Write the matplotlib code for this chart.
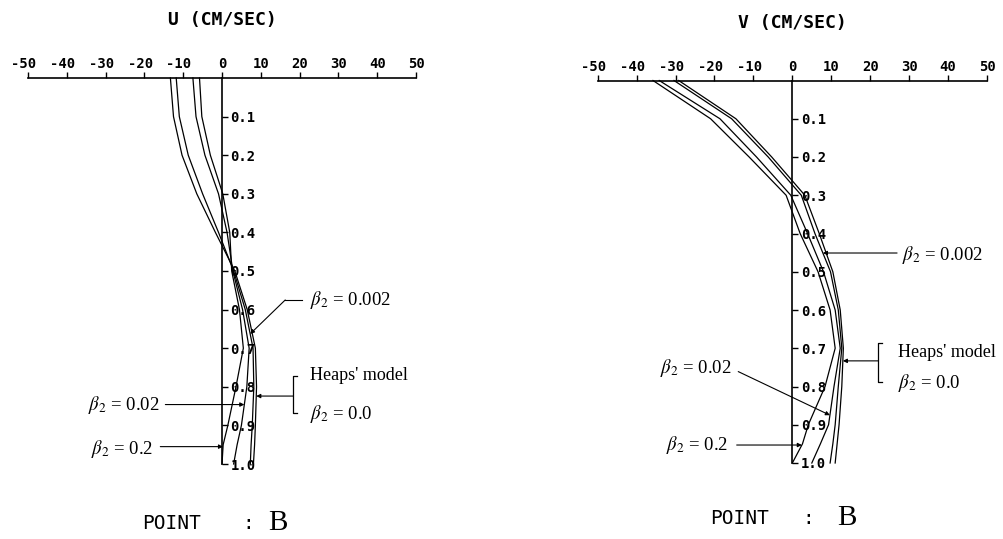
import numpy as np
import matplotlib
matplotlib.use("Agg")
import matplotlib.pyplot as plt

# depth below surface (fraction of total depth)
depth = [0.0, 0.1, 0.2, 0.3, 0.4, 0.5, 0.6, 0.7, 0.8, 0.9, 0.95, 1.0]

# U component (cm/sec) for each bottom friction beta2
u_beta_02 = [-5.8, -5.2, -3.0, 0.2, 2.0, 2.5, 4.5, 5.5, 3.6, 1.5, 0.3, 0.0]
u_beta_002 = [-7.5, -6.7, -4.4, -0.9, 1.3, 2.8, 5.3, 7.0, 6.4, 5.0, 3.9, 3.0]
u_beta_0002 = [-11.8, -11.0, -8.7, -5.0, -0.9, 3.0, 6.0, 8.0, 8.2, 7.8, 7.5, 7.3]
u_beta_0 = [-13.3, -12.5, -10.3, -6.5, -1.7, 3.3, 6.5, 8.6, 8.9, 8.6, 8.4, 8.1]

# V component (cm/sec)
v_beta_02 = [-35.8, -21.0, -11.1, -1.6, 2.0, 6.6, 9.7, 11.0, 8.4, 4.1, 2.6, 0.0]
v_beta_002 = [-34.2, -18.6, -9.2, -0.4, 3.9, 8.0, 11.0, 12.3, 10.7, 9.3, 7.2, 5.0]
v_beta_0002 = [-30.4, -15.6, -6.2, 2.3, 5.8, 9.8, 11.8, 12.7, 11.8, 11.0, 10.4, 9.7]
v_beta_0 = [-29.2, -14.5, -5.3, 3.2, 6.9, 10.4, 12.3, 13.1, 12.7, 12.0, 11.5, 11.0]

x_ticks = [-50, -40, -30, -20, -10, 0, 10, 20, 30, 40, 50]
depth_ticks = [0.1, 0.2, 0.3, 0.4, 0.5, 0.6, 0.7, 0.8, 0.9, 1.0]

plt.rcParams["mathtext.fontset"] = "stix"
MONO = "DejaVu Sans Mono"
SERIF = "Liberation Serif"

fig = plt.figure(figsize=(10.04, 5.39), dpi=100)


def setup_panel(rect, title):
    ax = fig.add_axes(rect)
    ax.set_xlim(-50, 50)
    ax.set_ylim(1.0, 0.0)
    ax.patch.set_visible(False)
    ax.spines["left"].set_visible(False)
    ax.spines["bottom"].set_visible(False)
    ax.spines["right"].set_position(("data", 0))
    ax.spines["top"].set_linewidth(1.2)
    ax.spines["right"].set_linewidth(1.2)
    ax.xaxis.tick_top()
    ax.yaxis.tick_right()
    ax.set_xticks(x_ticks)
    ax.set_xticklabels([])
    ax.set_yticks(depth_ticks)
    ax.set_yticklabels(["%.1f" % d for d in depth_ticks], fontfamily=MONO,
                       fontsize=10, fontweight="bold")
    ax.tick_params(axis="x", direction="out", length=4, width=1)
    ax.tick_params(axis="y", direction="out", length=4, width=1, pad=2)
    # plotter style labels: digits centred on tick, minus sign hanging left
    for t in x_ticks:
        dx = -3 if t < 0 else 0
        ax.annotate(str(t), xy=(t, 0), xytext=(dx, 7), textcoords="offset points",
                    ha="center", va="baseline", fontfamily=MONO, fontsize=10,
                    fontweight="bold", annotation_clip=False)
    ax.text(0, -0.15, title, ha="center", va="center", fontfamily=MONO,
            fontsize=13, fontweight="bold")
    return ax


def leader(ax, start, tip_depth, curve, arrow=True):
    tip = (np.interp(tip_depth, depth, curve), tip_depth)
    ax.annotate("", xy=tip, xytext=start, annotation_clip=False,
                arrowprops=dict(arrowstyle="-|>" if arrow else "-", lw=0.8,
                                color="black", mutation_scale=6,
                                shrinkA=0, shrinkB=0))


def beta_label(ax, x, y, value, ha="left"):
    ax.text(x, y, r"$\beta_2$ = " + value, ha=ha, va="center",
            fontfamily=SERIF, fontsize=13.5)


def bracket(ax, x, y0, y1, w=1.0):
    ax.plot([x + w, x, x, x + w], [y0, y0, y1, y1], color="black", lw=0.9,
            clip_on=False)


def point_label(ax, x_point, x_colon, x_b, y):
    ax.text(x_point, y, "POINT", ha="left", va="center", fontfamily=MONO,
            fontsize=14)
    ax.text(x_colon, y, ":", ha="center", va="center", fontfamily=MONO,
            fontsize=14)
    ax.text(x_b, y, "B", ha="center", va="center", fontfamily=SERIF,
            fontsize=21)


# ---------------- U panel ----------------
ax1 = setup_panel([28 / 1004, 1 - 464 / 539, 388 / 1004, 386 / 539], "U (CM/SEC)")
for u in (u_beta_02, u_beta_002, u_beta_0002, u_beta_0):
    ax1.plot(u, depth, color="black", lw=0.9, clip_on=False)

beta_label(ax1, 22.8, 0.575, "0.002")
ax1.plot([20.7, 16.3], [0.575, 0.575], color="black", lw=0.8, clip_on=False)
leader(ax1, (16.3, 0.575), 0.663, u_beta_0002)

ax1.text(22.8, 0.772, "Heaps' model", ha="left", va="center", fontfamily=SERIF,
         fontsize=13)
beta_label(ax1, 22.8, 0.870, "0.0")
bracket(ax1, 18.4, 0.772, 0.868)
leader(ax1, (18.4, 0.824), 0.824, u_beta_0)

beta_label(ax1, -16.1, 0.847, "0.02", ha="right")
leader(ax1, (-14.6, 0.846), 0.846, u_beta_002)

beta_label(ax1, -17.7, 0.962, "0.2", ha="right")
leader(ax1, (-15.9, 0.955), 0.955, u_beta_02)

point_label(ax1, -20.5, 6.8, 14.3, 1.153)

# ---------------- V panel ----------------
ax2 = setup_panel([597.7 / 1004, 1 - 463 / 539, 389.3 / 1004, 382.5 / 539], "V (CM/SEC)")
for v in (v_beta_02, v_beta_002, v_beta_0002, v_beta_0):
    ax2.plot(v, depth, color="black", lw=0.9, clip_on=False)

beta_label(ax2, 28.1, 0.456, "0.002")
leader(ax2, (26.9, 0.451), 0.451, v_beta_0002)

ax2.text(27.1, 0.712, "Heaps' model", ha="left", va="center", fontfamily=SERIF,
         fontsize=13)
beta_label(ax2, 27.1, 0.790, "0.0")
bracket(ax2, 22.1, 0.686, 0.787)
leader(ax2, (22.1, 0.733), 0.733, v_beta_0)

beta_label(ax2, -15.6, 0.752, "0.02", ha="right")
leader(ax2, (-13.9, 0.761), 0.875, v_beta_002)

beta_label(ax2, -16.5, 0.953, "0.2", ha="right")
leader(ax2, (-14.3, 0.953), 0.953, v_beta_02)

point_label(ax2, -21.2, 4.0, 13.9, 1.144)

fig.savefig("out.png", dpi=100)
